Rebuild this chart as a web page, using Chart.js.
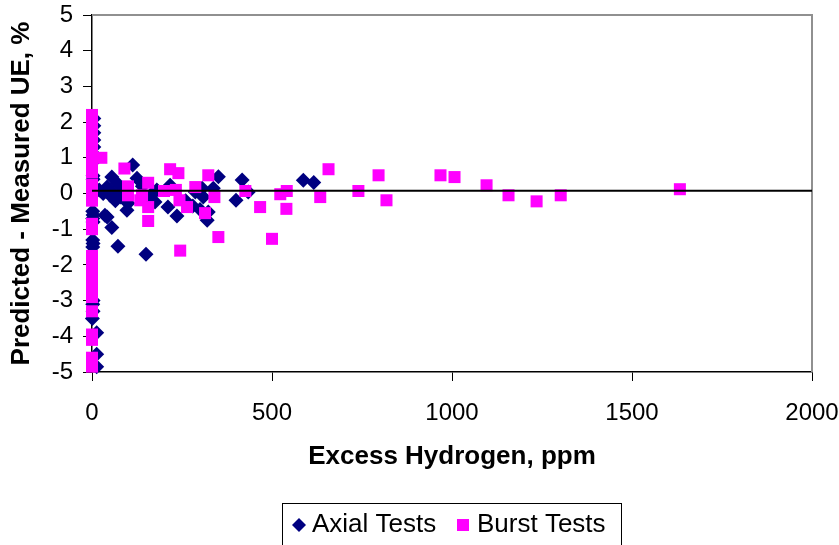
<!DOCTYPE html>
<html>
<head>
  <title>Excess Hydrogen vs UE</title>
  <script src="https://cdn.jsdelivr.net/npm/chart.js"></script>
  <style>
    body { margin: 0; background: #fff; }
    canvas { display: block; }
  </style>
</head>
<body>
  <canvas id="ueChart" width="839" height="545"></canvas>
  <script>
    // Axial tests (navy diamonds)
    const axialX = [5, 5, 5, 5, 5, 5, 5, 3, 3, 2, 3, 2, 3, 2, 3, 2, 3, 2, 3, 1, 13, 13, 13,
      20, 31, 36, 42, 42, 45, 50, 55, 55, 60, 65, 70, 72, 80, 83, 90, 97, 100, 113, 125,
      140, 150, 150, 160, 167, 175, 180, 211, 217, 236, 260, 280, 287, 300, 306, 309,
      320, 323, 337, 351, 400, 417, 434, 587, 616];
    const axialY = [2.1, 1.9, 1.7, 1.5, 1.3, 1.1, 0.9, 0.5, 0.4, -0.5, -0.6, -0.7, -0.8, -1.3, -1.4, -1.5, -3.0, -3.1, -3.3, -3.5, -3.9, -4.5, -4.85,
      0.1, 0.0, -0.61, 0.18, -0.66, 0.1, -0.05, 0.46, -0.95, 0.0, -0.2, 0.29, -1.48, -0.1, 0.04, 0.1, -0.47, -0.27, 0.8, 0.43,
      0.2, -0.1, -1.7, -0.3, 0.0, -0.24, 0.1, -0.38, 0.23, -0.63, -0.2, -0.35, 0.04, -0.45, 0.15, -0.1,
      -0.75, -0.52, 0.15, 0.47, -0.19, 0.38, 0.04, 0.37, 0.31];

    // Burst tests (magenta squares)
    const burstX = [0, 0, 0, 0, 0, 0, 0, 0, 0, 0, 0, 0, 0, 0, 0, 0, 0, 0, 0, 0, 0, 0, 0, 0, 0, 0, 0,
      26, 90, 100, 100, 134, 139, 156, 156, 156, 200, 217, 233, 240, 243, 245, 264, 287, 314,
      323, 340, 351, 426, 467, 500, 523, 541, 540, 634, 657, 740, 796, 818, 968, 1007,
      1096, 1157, 1235, 1302, 1633];
    const burstY = [2.2, 2.0, 1.8, 1.6, 1.4, 1.2, 1.0, 0.8, 0.6, 0.25, 0.0, -0.2, -0.85, -1.0, -1.75, -1.9, -2.1, -2.3, -2.5, -2.7, -2.9, -3.3, -3.95, -4.1, -4.6, -4.75, -4.85,
      1.0, 0.7, 0.2, -0.05, -0.19, -0.05, 0.3, -0.38, -0.77, 0.07, 0.68, 0.1, 0.57, -0.19, -1.6, -0.38, 0.18, -0.55,
      0.51, -0.1, -1.22, 0.07, -0.38, -1.27, -0.02, 0.07, -0.43, -0.1, 0.68, 0.07, 0.51, -0.19, 0.51, 0.46,
      0.23, -0.05, -0.22, -0.05, 0.12];

    // reference line near zero
    const zeroX = [0, 2000];
    const zeroY = [0.08, 0.08];

    const toPoints = (xs, ys) => xs.map((x, i) => ({ x: x, y: ys[i] }));
    const FONT = "'Liberation Sans', Arial, sans-serif";

    // grey top/right frame like the Excel plot area
    const framePlugin = {
      id: 'frame',
      beforeDatasetsDraw(chart) {
        const { ctx, chartArea: a } = chart;
        ctx.save();
        ctx.strokeStyle = '#909090';
        ctx.lineWidth = 2;
        ctx.beginPath();
        ctx.moveTo(a.left, a.top);
        ctx.lineTo(a.right, a.top);
        ctx.lineTo(a.right, a.bottom);
        ctx.stroke();
        ctx.restore();
      }
    };

    // boxed legend at the bottom
    const legendBox = {
      id: 'legendBox',
      afterDraw(chart) {
        const ctx = chart.ctx;
        const ds = chart.data.datasets;
        ctx.save();
        ctx.strokeStyle = '#000';
        ctx.lineWidth = 1;
        ctx.strokeRect(282.5, 503.5, 339, 50);
        ctx.font = '26px ' + FONT;
        ctx.fillStyle = '#000';
        ctx.textBaseline = 'middle';
        const cy = 525;
        // diamond
        ctx.fillStyle = ds[0].backgroundColor;
        ctx.beginPath();
        ctx.moveTo(299, cy - 7);
        ctx.lineTo(306, cy);
        ctx.lineTo(299, cy + 7);
        ctx.lineTo(292, cy);
        ctx.closePath();
        ctx.fill();
        ctx.fillStyle = '#000';
        ctx.fillText(ds[0].label, 312, cy);
        // square
        ctx.fillStyle = ds[1].backgroundColor;
        ctx.fillRect(457, cy - 6, 12, 12);
        ctx.fillStyle = '#000';
        ctx.fillText(ds[1].label, 477, cy);
        ctx.restore();
      }
    };

    const ctx = document.getElementById('ueChart').getContext('2d');
    const chart = new Chart(ctx, {
      type: 'scatter',
      data: {
        datasets: [
          {
            label: 'Axial Tests',
            data: toPoints(axialX, axialY),
            pointStyle: 'rectRot',
            pointRadius: 7.5,
            backgroundColor: '#000080',
            borderColor: '#000080',
            borderWidth: 0,
            order: 2,
            clip: false
          },
          {
            label: 'Burst Tests',
            data: toPoints(burstX, burstY),
            pointStyle: 'rect',
            pointRadius: 8.5,
            backgroundColor: '#FF00FF',
            borderColor: '#FF00FF',
            borderWidth: 0,
            order: 1,
            clip: false
          },
          {
            type: 'line',
            label: 'zero',
            data: toPoints(zeroX, zeroY),
            borderColor: '#000',
            borderWidth: 2,
            pointRadius: 0,
            fill: false,
            order: 0
          }
        ]
      },
      options: {
        responsive: false,
        animation: false,
        layout: { autoPadding: false, padding: { left: 0, right: 27, top: 15, bottom: 73 } },
        plugins: {
          legend: { display: false },
          tooltip: { enabled: false }
        },
        scales: {
          x: {
            type: 'linear',
            min: 0,
            max: 2000,
            afterFit: (s) => { s.height = 100; s.paddingLeft = 0; s.paddingRight = 0; },
            ticks: {
              stepSize: 500,
              padding: 18,
              color: '#000',
              font: { family: FONT, size: 24 },
              maxRotation: 0,
              callback: (v) => String(v)
            },
            grid: { display: true, drawOnChartArea: false, drawTicks: true, tickLength: 9, color: '#000', lineWidth: 1 },
            border: { display: true, color: '#000', width: 1.5 },
            title: {
              display: true,
              text: 'Excess Hydrogen, ppm',
              color: '#000',
              font: { family: FONT, size: 26, weight: 'bold' },
              padding: { top: 0, bottom: 0 }
            }
          },
          y: {
            min: -5,
            max: 5,
            afterFit: (s) => { s.width = 92; s.paddingTop = 0; s.paddingBottom = 0; },
            ticks: {
              stepSize: 1,
              padding: 10,
              color: '#000',
              font: { family: FONT, size: 24 },
              callback: (v) => String(v)
            },
            grid: { display: true, drawOnChartArea: false, drawTicks: true, tickLength: 9, color: '#000', lineWidth: 1 },
            border: { display: true, color: '#000', width: 1.5 },
            title: {
              display: true,
              text: 'Predicted - Measured UE, %',
              color: '#000',
              font: { family: FONT, size: 26, weight: 'bold' },
              padding: { top: 6, bottom: 0 }
            }
          }
        }
      },
      plugins: [framePlugin, legendBox]
    });
  </script>
</body>
</html>
